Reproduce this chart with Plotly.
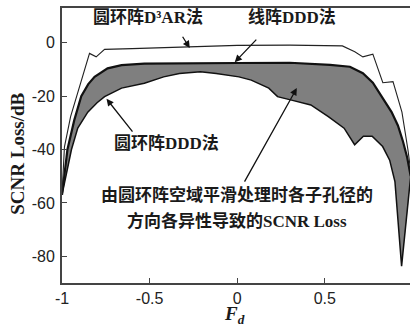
import plotly.graph_objects as go

# ---- data ----
fd_d3ar = [-1, -0.986, -0.951, -0.923, -0.843, -0.805, -0.757, -0.6, -0.3, 0, 0.3, 0.6, 0.671, 0.717, 0.774, 0.831, 0.889, 0.94, 0.974, 0.99]
loss_d3ar = [-57, -39, -27.7, -21.5, -4, -5.3, -2.5, -2.2, -1.6, -1.0, -0.9, -1.2, -3.4, -5.3, -4.3, -15, -14.6, -26, -40, -48]

fd_lin = [-1, -0.985, -0.969, -0.93, -0.89, -0.85, -0.814, -0.74, -0.66, -0.53, -0.3, 0, 0.3, 0.53, 0.643, 0.717, 0.774, 0.831, 0.881, 0.917, 0.946, 0.97, 0.99]
loss_lin = [-57, -48, -40, -29, -20, -15.5, -12.8, -9.6, -8.4, -7.8, -7.8, -7.6, -7.5, -8.3, -9, -11.4, -15, -20.7, -26, -31, -37, -43, -50]

fd_circ = [-1, -0.97, -0.946, -0.91, -0.853, -0.8, -0.757, -0.66, -0.53, -0.42, -0.33, -0.21, -0.12, 0.01, 0.08, 0.18, 0.23, 0.31, 0.42, 0.52, 0.61, 0.67, 0.72, 0.77, 0.83, 0.87, 0.9, 0.938, 0.957, 0.974, 0.99]
loss_circ = [-57, -48, -40, -32, -26, -22.5, -20.2, -17, -15.2, -12.8, -11.5, -10.9, -11.5, -12.8, -14, -17, -20.2, -21.5, -23.3, -27.7, -32, -38.2, -35, -35, -38.9, -44, -52, -83.7, -72, -61.4, -50]

y_ticks = [0, -20, -40, -60, -80]
y_ticktext = ["0", "-20", "-40", "-60", "-80"]
x_ticks = [-1, -0.5, 0, 0.5, 1]
x_ticktext = ["-1", "-0.5", "0", "0.5", "1"]

LAT = "Liberation Serif, Noto Sans CJK SC, serif"

fig = go.Figure()

# gray region between linear DDD and circular DDD
fig.add_trace(go.Scatter(
    x=fd_lin + fd_circ[::-1], y=loss_lin + loss_circ[::-1],
    fill="toself", fillcolor="#7f7f7f", mode="lines",
    line=dict(width=0), hoverinfo="skip", showlegend=False))

fig.add_trace(go.Scatter(x=fd_circ, y=loss_circ, mode="lines",
                         line=dict(color="#111", width=1.5), showlegend=False))
fig.add_trace(go.Scatter(x=fd_lin, y=loss_lin, mode="lines",
                         line=dict(color="#111", width=2.2), showlegend=False))
fig.add_trace(go.Scatter(x=fd_d3ar, y=loss_d3ar, mode="lines",
                         line=dict(color="#222", width=1.1), showlegend=False))

txtfont = dict(family=LAT, size=17, color="#1a1a1a")
anns = [
    dict(x=-0.511, y=9.6, text="<b>圆环阵D³AR法</b>"),
    dict(x=0.311, y=9.6, text="<b>线阵DDD法</b>"),
    dict(x=-0.403, y=-37.6, text="<b>圆环阵DDD法</b>"),
    dict(x=0.0, y=-57.2, text="<b>由圆环阵空域平滑处理时各子孔径的</b>"),
    dict(x=0.0, y=-66.6, text="<b>方向各异性导致的SCNR Loss</b>"),
]
for a in anns:
    fig.add_annotation(xref="x", yref="y", showarrow=False, font=txtfont,
                       xanchor="center", yanchor="middle", **a)

arrows = [
    ((-0.271, -2.0), (-0.317, 2.8)),
    ((-0.014, -7.3), (0.117, 1.7)),
    ((-0.746, -21.0), (-0.591, -33.9)),
    ((0.34, -17.0), (0.037, -52.6)),
]
for (hx, hy), (tx, ty) in arrows:
    fig.add_annotation(x=hx, y=hy, ax=tx, ay=ty, xref="x", yref="y",
                       axref="x", ayref="y", text="", showarrow=True,
                       arrowhead=2, arrowsize=1.1, arrowwidth=1.3,
                       arrowcolor="#111")

# axis titles
fig.add_annotation(xref="paper", yref="paper", x=-0.1264, y=0.47,
                   text="<b>SCNR Loss/dB</b>", textangle=-90, showarrow=False,
                   font=dict(family="Liberation Serif", size=19, color="#1a1a1a"),
                   xanchor="center", yanchor="middle")
fig.add_annotation(xref="paper", yref="paper", x=0.497, y=-0.118,
                   text="<b><i>F</i></b><sub><b><i>d</i></b></sub>", showarrow=False,
                   font=dict(family="Liberation Serif", size=19, color="#1a1a1a"),
                   xanchor="center", yanchor="middle")

fig.update_layout(
    width=410, height=326,
    margin=dict(l=62, r=0, t=8, b=43),
    paper_bgcolor="white", plot_bgcolor="white",
    showlegend=False,
    xaxis=dict(range=[-1, 0.986], tickvals=x_ticks, ticktext=x_ticktext,
               ticks="inside", ticklen=5, tickwidth=1, tickcolor="#444",
               showline=True, linewidth=2, linecolor="#444", mirror=True,
               showgrid=False, zeroline=False,
               tickfont=dict(family="Liberation Sans", size=16, color="#222")),
    yaxis=dict(range=[-90, 13], tickvals=y_ticks, ticktext=y_ticktext,
               ticks="inside", ticklen=5, tickwidth=1, tickcolor="#444",
               showline=True, linewidth=2, linecolor="#444", mirror=False,
               showgrid=False, zeroline=False, ticklabelstandoff=2,
               tickfont=dict(family="Liberation Sans", size=16, color="#222")),
)

fig.write_html("out.html", config={"displayModeBar": False},
               post_script="document.body.style.margin='0px';document.body.style.overflow='hidden';")
